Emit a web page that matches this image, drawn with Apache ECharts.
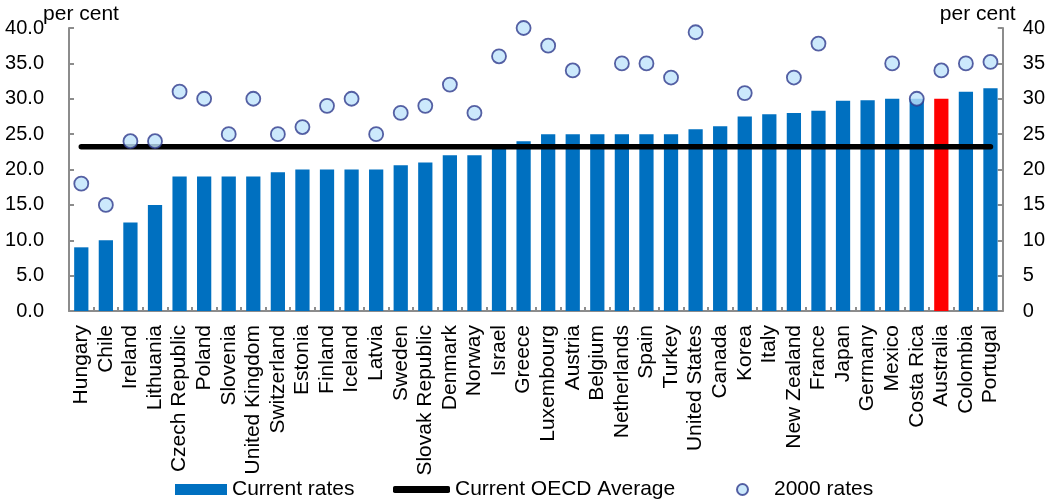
<!DOCTYPE html>
<html>
<head>
<meta charset="utf-8">
<script src="https://cdn.jsdelivr.net/npm/echarts@6/dist/echarts.min.js"></script>
<style>
  html, body { margin: 0; padding: 0; background: #ffffff; }
  #chart { width: 1048px; height: 499px; }
</style>
</head>
<body>
<div id="chart"></div>
<script>
// Corporate tax rates by country, per cent
const countries = ['Hungary', 'Chile', 'Ireland', 'Lithuania', 'Czech Republic', 'Poland', 'Slovenia',
  'United Kingdom', 'Switzerland', 'Estonia', 'Finland', 'Iceland', 'Latvia', 'Sweden', 'Slovak Republic',
  'Denmark', 'Norway', 'Israel', 'Greece', 'Luxembourg', 'Austria', 'Belgium', 'Netherlands', 'Spain',
  'Turkey', 'United States', 'Canada', 'Korea', 'Italy', 'New Zealand', 'France', 'Japan', 'Germany',
  'Mexico', 'Costa Rica', 'Australia', 'Colombia', 'Portugal'];

const currentRates = [9, 10, 12.5, 15, 19, 19, 19, 19, 19.6, 20, 20, 20, 20, 20.6, 21, 22, 22, 23, 24,
  25, 25, 25, 25, 25, 25, 25.7, 26.1, 27.5, 27.8, 28, 28.3, 29.7, 29.8, 30, 30, 30, 31, 31.5];

const rates2000 = [18, 15, 24, 24, 31, 30, 25, 30, 25, 26, 29, 30, 25, 28, 29, 32, 28, 36, 40,
  37.5, 34, null, 35, 35, 33, 39.4, null, 30.8, null, 33, 37.8, null, null, 35, 30, 34, 35, 35.2];

const oecdAverage = 23.2;
const highlighted = 'Australia';

const yTicks = { min: 0, max: 40, interval: 5 };

const barBlue = '#0070c0';
const axisGrey = '#8c8c8c';
const font = '"Liberation Sans", Arial, sans-serif';

const barData = currentRates.map((v, i) => countries[i] === highlighted
  ? { value: v, itemStyle: { color: '#ff0000' } }
  : v);
const averageData = countries.map(() => oecdAverage);

const chart = echarts.init(document.getElementById('chart'), null, { renderer: 'canvas' });

const yAxisBase = {
  type: 'value',
  min: yTicks.min,
  max: yTicks.max,
  interval: yTicks.interval,
  name: 'per cent',
  nameLocation: 'end',
  nameGap: 3,
  nameMoveOverlap: false,
  axisLine: { show: true, lineStyle: { color: axisGrey, width: 2 } },
  axisTick: { show: true, inside: true, length: 5, lineStyle: { color: axisGrey, width: 2 } },
  splitLine: { show: false },
};

const legendText = { fontSize: 21, color: '#000', fontFamily: font };

chart.setOption({
  animation: false,
  backgroundColor: '#ffffff',
  textStyle: { fontFamily: font },
  grid: { left: 69, right: 43, top: 28, bottom: 188 },
  legend: [
    {
      data: [{ name: 'Current rates', icon: 'rect' }],
      left: 170, top: 474, itemWidth: 52, itemHeight: 11,
      textStyle: legendText,
      selectedMode: false
    },
    {
      data: [{ name: 'Current OECD Average', icon: 'roundRect' }],
      left: 388, top: 474, itemWidth: 57, itemHeight: 7,
      textStyle: legendText,
      selectedMode: false
    },
    {
      data: [{ name: '2000 rates', icon: 'circle' }],
      left: 731, top: 474, itemWidth: 11, itemHeight: 11,
      textStyle: Object.assign({}, legendText, { padding: [0, 0, 0, 21] }),
      selectedMode: false
    }
  ],
  xAxis: {
    type: 'category',
    data: countries,
    boundaryGap: true,
    axisLine: { show: true, lineStyle: { color: axisGrey, width: 2 } },
    axisTick: { show: true, inside: true, length: 4, alignWithLabel: false, lineStyle: { color: axisGrey, width: 2 } },
    axisLabel: { interval: 0, rotate: 90, fontSize: 21, color: '#000', margin: 14, fontFamily: font },
    splitLine: { show: false }
  },
  yAxis: [
    Object.assign({}, yAxisBase, {
      position: 'left',
      nameTextStyle: { fontSize: 21, color: '#000', align: 'center', verticalAlign: 'bottom', padding: [0, 0, 0, 24], fontFamily: font },
      axisLabel: { fontSize: 20, color: '#000', margin: 25, fontFamily: font, formatter: v => v.toFixed(1) }
    }),
    Object.assign({}, yAxisBase, {
      position: 'right',
      nameTextStyle: { fontSize: 21, color: '#000', align: 'center', verticalAlign: 'bottom', padding: [0, 50, 0, 0], fontFamily: font },
      axisLabel: { fontSize: 20, color: '#000', margin: 20, fontFamily: font, formatter: v => String(v) }
    })
  ],
  series: [
    {
      name: 'Current rates',
      type: 'bar',
      data: barData,
      barWidth: '58%',
      itemStyle: { color: barBlue },
      z: 2
    },
    {
      name: 'Current OECD Average',
      type: 'line',
      data: averageData,
      symbol: 'none',
      lineStyle: { color: '#000000', width: 5.5, cap: 'round' },
      itemStyle: { color: '#000000' },
      z: 3
    },
    {
      name: '2000 rates',
      type: 'scatter',
      data: rates2000,
      symbol: 'circle',
      symbolSize: 14,
      itemStyle: { color: '#bfe3fb', borderColor: '#2e3a8c', borderWidth: 1.8 },
      z: 4
    }
  ]
});
</script>
</body>
</html>
